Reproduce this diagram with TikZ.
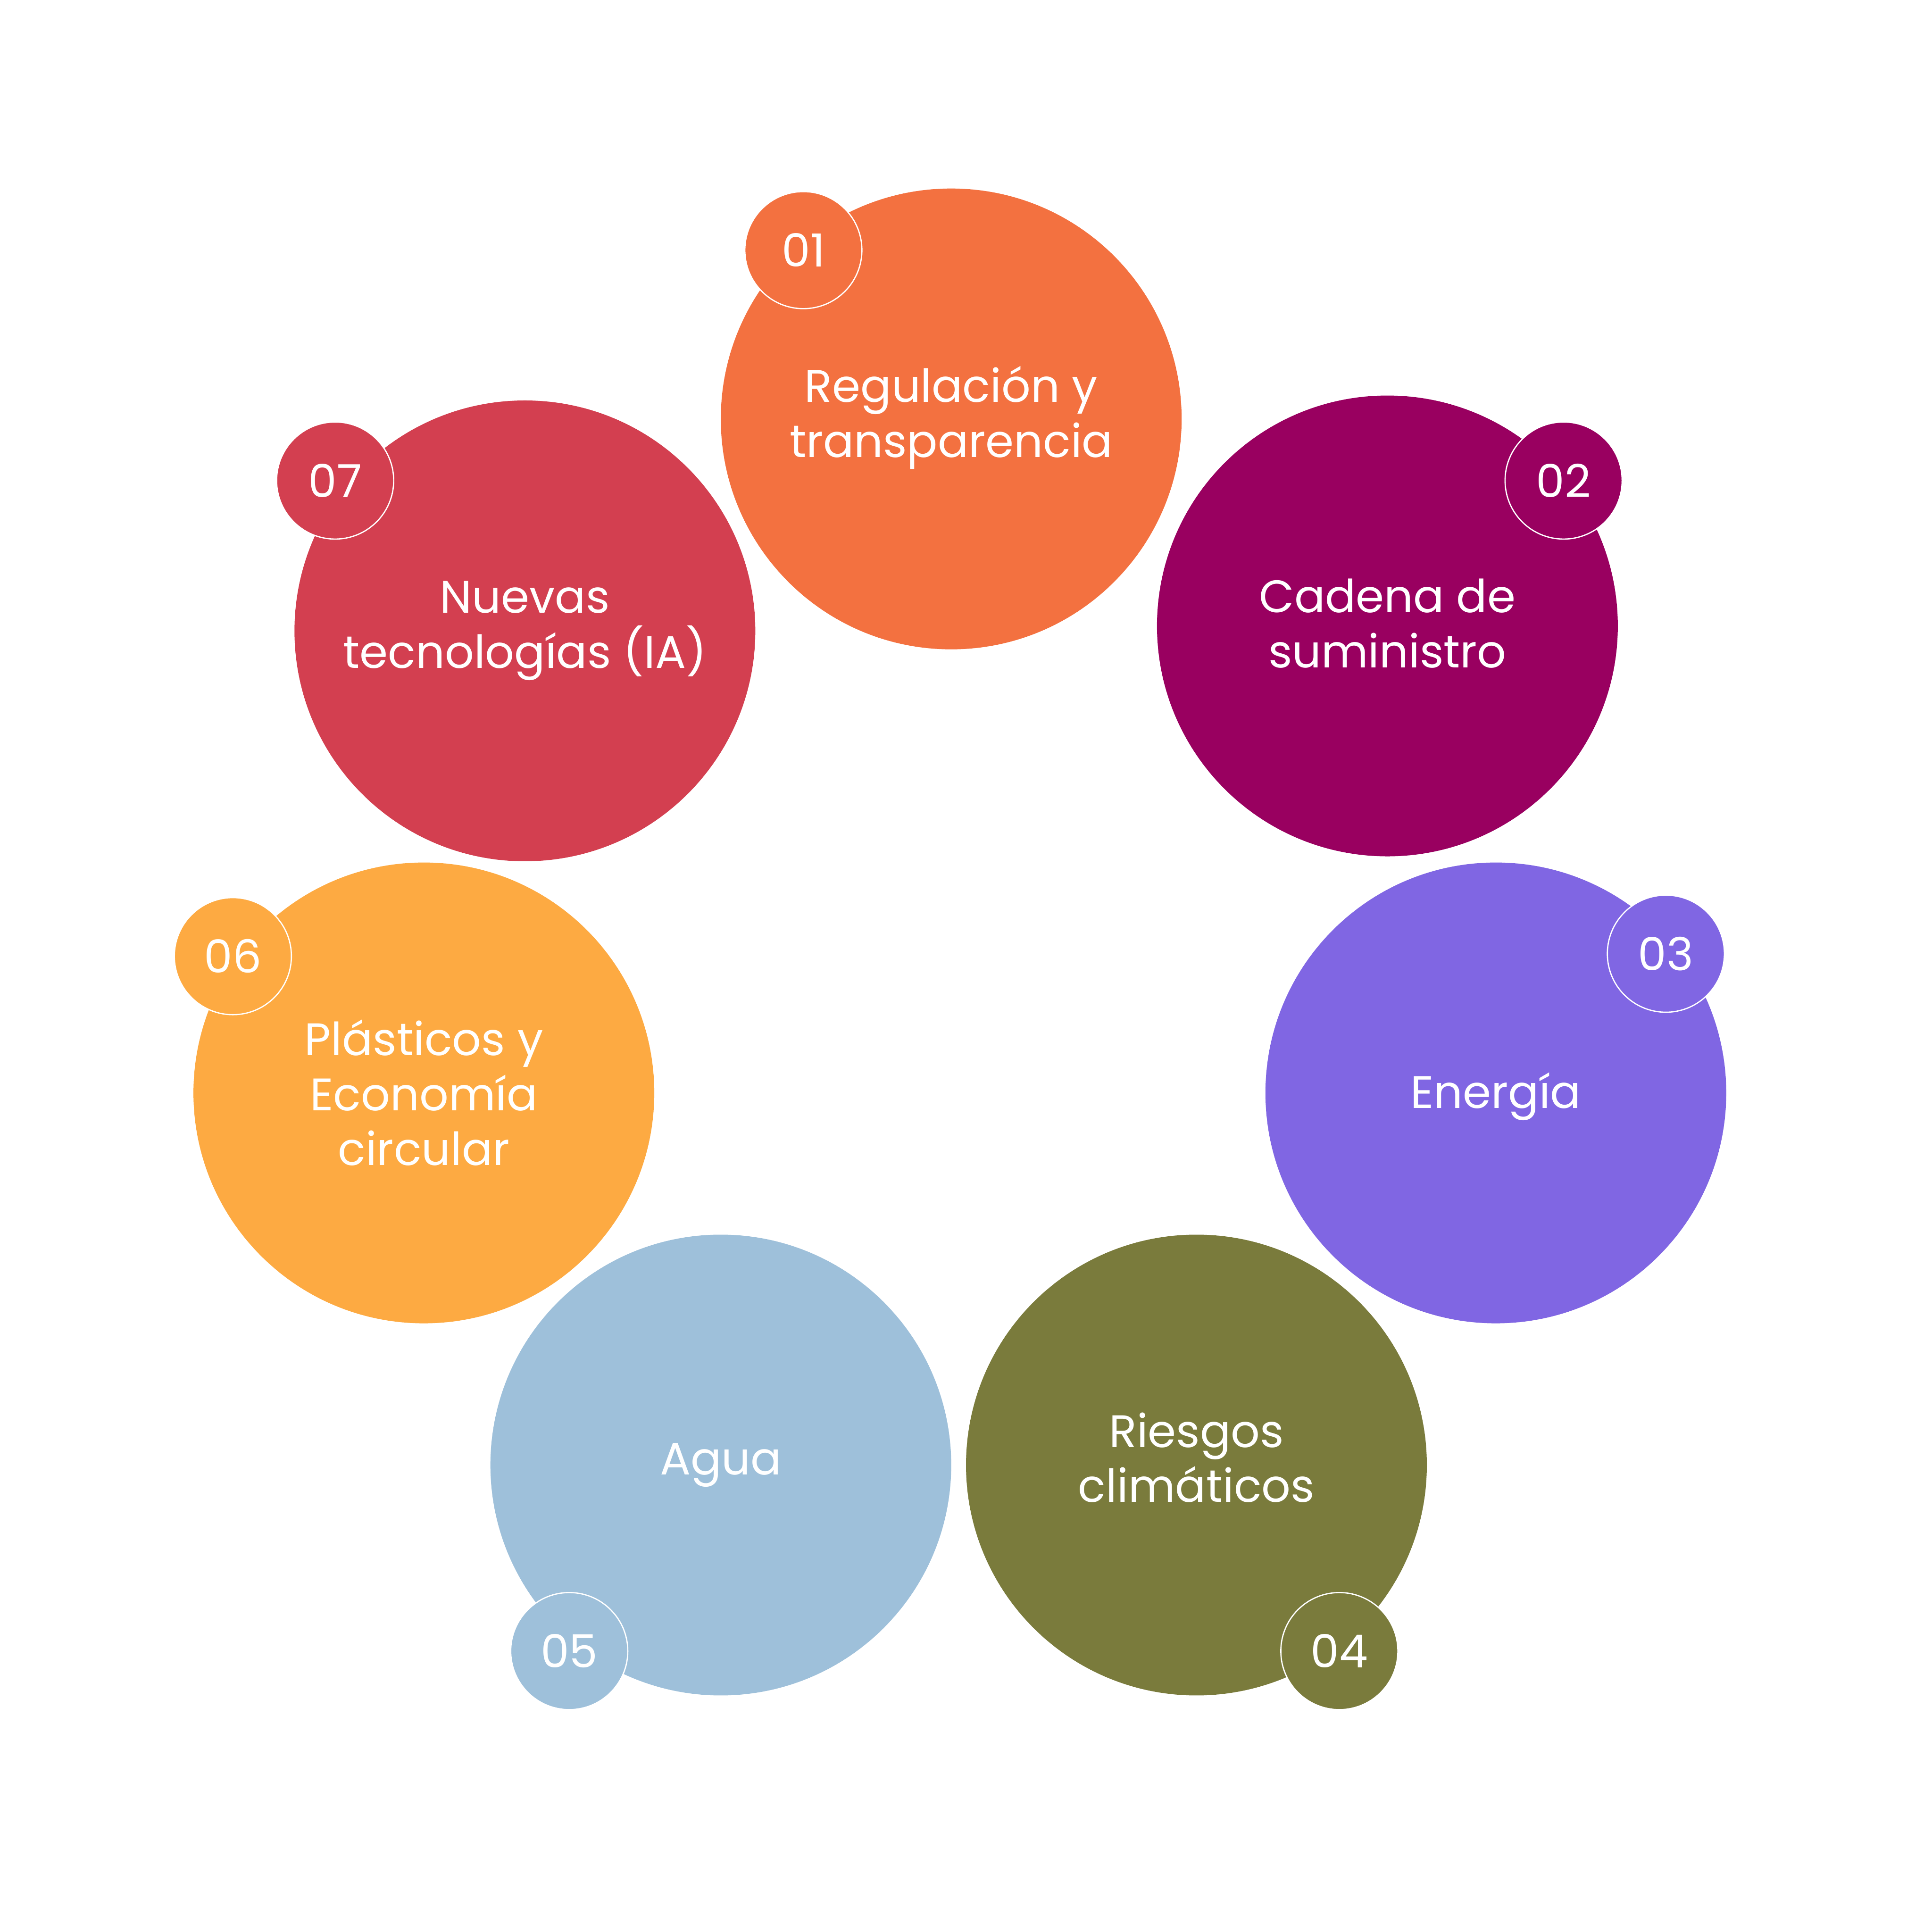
\documentclass[tikz,border=0pt]{standalone}
\usepackage{fontspec}
\setmainfont{Poppins}
\definecolor{cA}{HTML}{F37140}
\definecolor{cB}{HTML}{990060}
\definecolor{cC}{HTML}{8066E3}
\definecolor{cD}{HTML}{7A7B3C}
\definecolor{cE}{HTML}{9EC0DA}
\definecolor{cF}{HTML}{FDAA42}
\definecolor{cG}{HTML}{D33F50}
\tikzset{
  bigc/.style={circle, minimum size=374pt, inner sep=0pt},
  lbl/.style={text=white, align=center, inner sep=0pt,
    font=\fontsize{37}{44.6}\selectfont},
  badge/.style={circle, minimum size=95pt, inner sep=0pt, draw=white, line width=1pt,
    text=white, font=\fontsize{37}{44.6}\selectfont}
}
\begin{document}
\begin{tikzpicture}[x=1pt,y=-1pt]
\useasboundingbox[fill=white] (0,0) rectangle (1568,1568);
\node[bigc, fill=cA] (c1) at (772,340) {};
\node[bigc, fill=cB] (c2) at (1126,508) {};
\node[bigc, fill=cC] (c3) at (1214,887) {};
\node[bigc, fill=cD] (c4) at (971,1189) {};
\node[bigc, fill=cE] (c5) at (585,1189) {};
\node[bigc, fill=cF] (c6) at (344,887) {};
\node[bigc, fill=cG] (c7) at (426,512) {};
\node[lbl] (t1) at ([yshift=1pt]c1.center) {Regulación y\\transparencia};
\node[lbl] (t2) at ([yshift=2pt]c2.center) {Cadena de\\suministro};
\node[lbl] (t3) at ([yshift=-3pt]c3.center) {Energía};
\node[lbl] (t4) at ([yshift=6pt]c4.center) {Riesgos\\climáticos};
\node[lbl] (t5) at (c5.center) {Agua};
\node[lbl] (t6) at (c6.center) {Plásticos y\\Economía\\circular};
\node[lbl] (t7) at (c7.center) {Nuevas\\tecnologías (IA)};
\node[badge, fill=cA] (b1) at (652,203) {01};
\node[badge, fill=cB] (b2) at (1269,390) {02};
\node[badge, fill=cC] (b3) at (1352,774) {03};
\node[badge, fill=cD] (b4) at (1087,1340) {04};
\node[badge, fill=cE] (b5) at (462,1340) {05};
\node[badge, fill=cF] (b6) at (189,776) {06};
\node[badge, fill=cG] (b7) at (272,390) {07};
\end{tikzpicture}
\end{document}
